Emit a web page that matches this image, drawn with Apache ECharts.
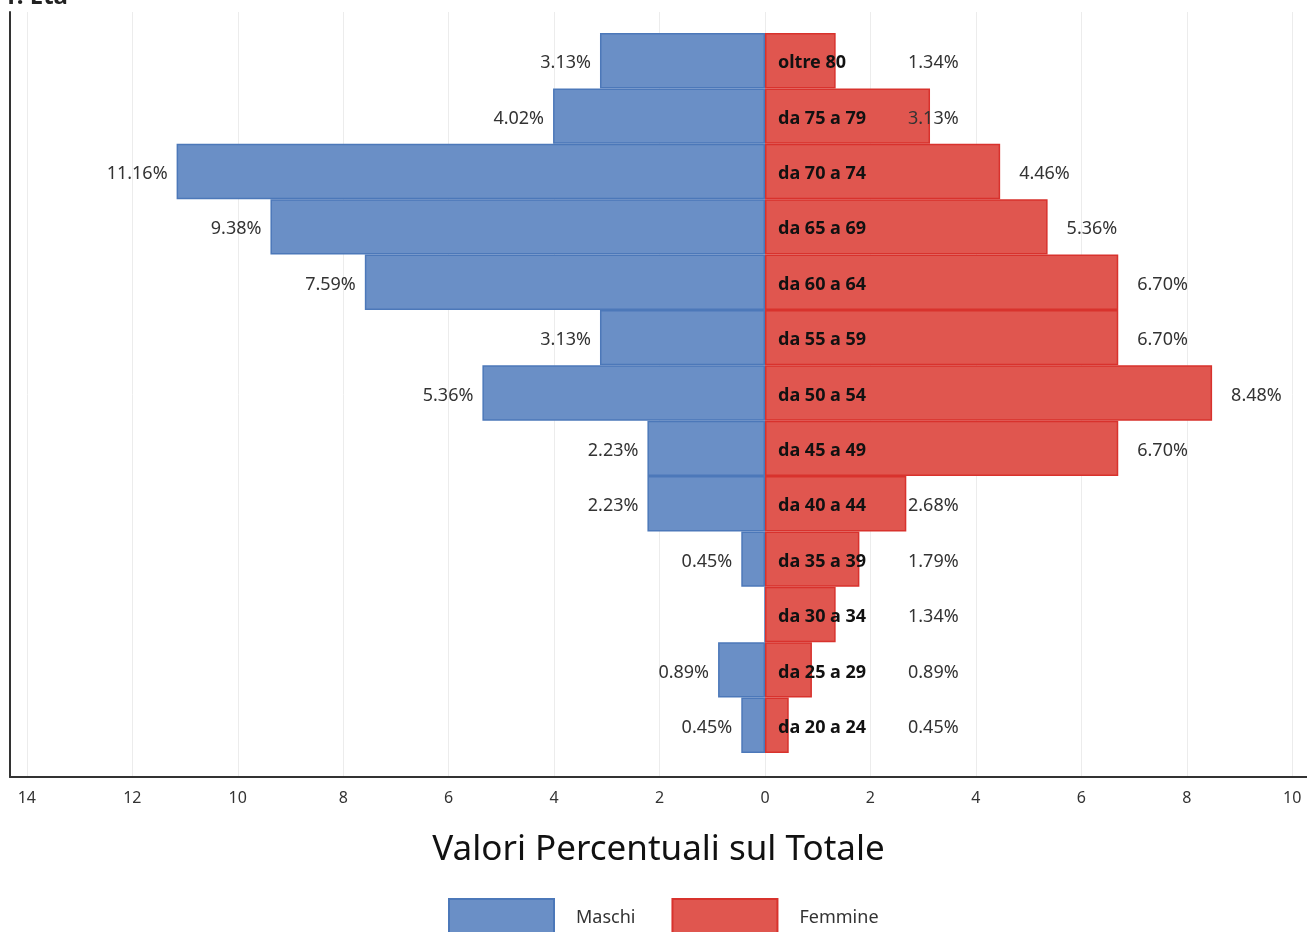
<!DOCTYPE html>
<html><head><meta charset="utf-8">
<script src="https://cdn.jsdelivr.net/npm/echarts@6/dist/echarts.min.js"></script>
<style>html,body{margin:0;padding:0;background:#fff;overflow:hidden}#c{width:1307px;height:932px}</style>
</head><body><div id="c"></div>
<script>
// ---- data ----
const categories = ['da 20 a 24','da 25 a 29','da 30 a 34','da 35 a 39','da 40 a 44','da 45 a 49','da 50 a 54','da 55 a 59','da 60 a 64','da 65 a 69','da 70 a 74','da 75 a 79','oltre 80'];
const maschi   = [0.45, 0.89, 0, 0.45, 2.23, 2.23, 5.36, 3.13, 7.59, 9.38, 11.16, 4.02, 3.13];
const femmine  = [0.45, 0.89, 1.34, 1.79, 2.68, 6.70, 8.48, 6.70, 6.70, 5.36, 4.46, 3.13, 1.34];
const tickValues = [-14,-12,-10,-8,-6,-4,-2,0,2,4,6,8,10];
const seriesNames = ['Maschi','Femmine'];
const axisTitle = 'Valori Percentuali sul Totale';
const chartTitle = '1. Età';

// ---- style ----
const FONT = '"Noto Sans", "Open Sans", sans-serif';
const xMin = -14.32, xMax = 10.28;
const blue = '#6a8fc6', blueBorder = '#4c78b9';
const red = '#e0564f', redBorder = '#d8322d';
const fmt = v => Math.abs(v).toFixed(2) + '%';
const LABEL_DY = 2.5;

const chart = echarts.init(document.getElementById('c'), null, {renderer:'canvas'});

function build(g) {
  const ppu = g.ppu;
  return {
    animation: false,
    backgroundColor: '#fff',
    title: {
      text: chartTitle, left: -2, top: -20,
      textStyle: {fontFamily: FONT, fontSize: 24, fontWeight: 'bold', color: '#222'}
    },
    legend: {
      data: seriesNames, left: 448, top: 898, padding: 0,
      itemWidth: 105, itemHeight: 38, itemGap: 36,
      icon: 'rect',
      textStyle: {fontFamily: FONT, fontSize: 18, color: '#333', padding: [0, 0, 0, 17]}
    },
    grid: [
      {left: 10, right: 0, top: 12, bottom: 155, containLabel: false},
      {left: 10, right: 0, top: 33, bottom: 179, containLabel: false}
    ],
    xAxis: [
      {
        gridIndex: 0, type: 'value', min: xMin, max: xMax,
        axisLine: {show: true, onZero: false, lineStyle: {color: '#333', width: 2}},
        axisTick: {show: false, customValues: tickValues},
        axisLabel: {customValues: tickValues, formatter: v => String(Math.abs(v)), margin: 13,
          fontFamily: FONT, fontSize: 16, color: '#333'},
        splitLine: {show: true, lineStyle: {color: '#ececec', width: 1}},
        name: axisTitle, nameLocation: 'middle', nameGap: 56,
        nameTextStyle: {fontFamily: FONT, fontSize: 35, color: '#111'}
      },
      {
        gridIndex: 1, type: 'value', min: xMin, max: xMax, show: false
      }
    ],
    yAxis: [
      {
        gridIndex: 0, type: 'category', data: categories,
        axisLine: {show: true, onZero: false, lineStyle: {color: '#333', width: 2}},
        axisTick: {show: false}, axisLabel: {show: false}, splitLine: {show: false}
      },
      {
        gridIndex: 1, type: 'category', data: categories, z: 10,
        axisLine: {show: false, onZero: false}, axisTick: {show: false},
        axisLabel: {inside: true, margin: g.zeroOffset + 13, fontFamily: FONT, fontSize: 18,
          fontWeight: 'bold', color: '#111', verticalAlign: 'top', lineHeight: 2 * LABEL_DY},
        splitLine: {show: false}
      }
    ],
    series: [
      {
        name: seriesNames[0], type: 'bar', xAxisIndex: 1, yAxisIndex: 1, stack: 'pop',
        barWidth: '100%', barCategoryGap: '0%',
        itemStyle: {color: blue, borderColor: blueBorder, borderWidth: 1.5},
        data: maschi.map(v => ({
          value: -v,
          label: {show: v !== 0}
        })),
        label: {position: 'left', distance: 9, offset: [0, LABEL_DY], formatter: p => fmt(p.value),
          fontFamily: FONT, fontSize: 18, color: '#333'}
      },
      {
        name: seriesNames[1], type: 'bar', xAxisIndex: 1, yAxisIndex: 1, stack: 'pop',
        barWidth: '100%', barCategoryGap: '0%',
        itemStyle: {color: red, borderColor: redBorder, borderWidth: 1.5},
        data: femmine.map(v => {
          const end = v * ppu;
          const start = end > 200 ? end + 19 : 143;
          return {value: v, label: {show: true, offset: [start - end - 5, LABEL_DY]}};
        }),
        label: {position: 'right', distance: 5, formatter: p => fmt(p.value),
          fontFamily: FONT, fontSize: 18, color: '#333'}
      }
    ]
  };
}

chart.setOption(build({ppu: 52.7, zeroOffset: 755}));
const p0 = chart.convertToPixel({xAxisIndex: 1}, 0);
const p1 = chart.convertToPixel({xAxisIndex: 1}, 1);
const pm = chart.convertToPixel({xAxisIndex: 1}, xMin);
const ok = [p0, p1, pm].every(v => typeof v === 'number' && isFinite(v));
chart.setOption(build(ok ? {ppu: p1 - p0, zeroOffset: p0 - pm} : {ppu: 52.7, zeroOffset: 755}));
</script>
</body></html>
